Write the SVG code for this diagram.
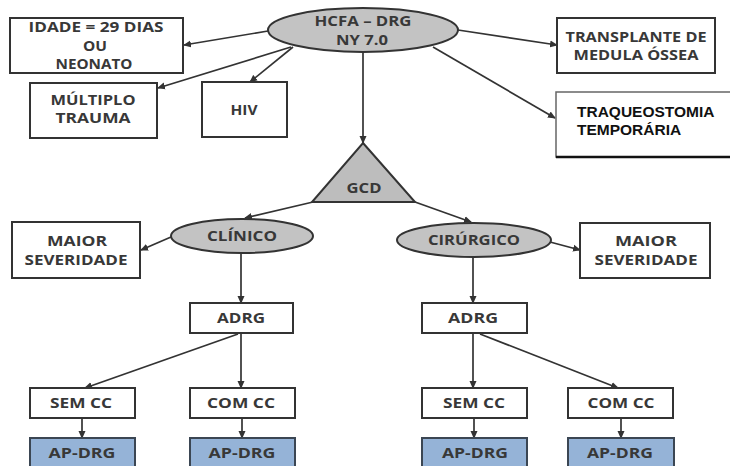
<svg xmlns="http://www.w3.org/2000/svg" width="730" height="466" viewBox="0 0 730 466">
  <style>
    .box { fill: #ffffff; stroke: #333333; stroke-width: 2; }
    .oval { fill: #c3c3c3; stroke: #333333; stroke-width: 2; }
    .tri { fill: #bdbdbd; stroke: #333333; stroke-width: 2; }
    .blue { fill: #95b3d7; stroke: #3b4653; stroke-width: 2; }
    .lbl { font-family: "Open Sans", "DejaVu Sans", sans-serif; font-weight: bold; font-size: 13.5px; fill: #383838; text-anchor: middle; }
    .arial { font-family: "Liberation Sans", Arial, sans-serif; font-weight: bold; font-size: 15.5px; fill: #111111; }
    .edge { fill: none; stroke: #333333; stroke-width: 1.7; marker-end: url(#arrow); }
  </style>
  <defs>
    <marker id="arrow" markerUnits="userSpaceOnUse" markerWidth="8" markerHeight="8" refX="7" refY="4" orient="auto">
      <path d="M0,0.5 L8,4 L0,7.5 z" fill="#333333"/>
    </marker>
  </defs>

  <rect width="730" height="466" fill="#ffffff"/>

  <!-- connectors -->
  <g id="connectors">
    <line class="edge" x1="268" y1="31" x2="184" y2="45"/>
    <line class="edge" x1="291" y1="47" x2="158" y2="88"/>
    <line class="edge" x1="293" y1="47" x2="250" y2="82"/>
    <line class="edge" x1="458" y1="30" x2="557" y2="45"/>
    <line class="edge" x1="433" y1="47" x2="555" y2="118"/>
    <line class="edge" x1="363" y1="52" x2="363" y2="143"/>
    <line class="edge" x1="313" y1="202" x2="245" y2="218"/>
    <line class="edge" x1="415" y1="202" x2="471" y2="222"/>
    <line class="edge" x1="171" y1="237" x2="141" y2="250"/>
    <line class="edge" x1="550" y1="242" x2="580" y2="250"/>
    <line class="edge" x1="241" y1="253" x2="241" y2="303"/>
    <line class="edge" x1="473" y1="257" x2="473" y2="303"/>
    <line class="edge" x1="238" y1="334" x2="85" y2="388"/>
    <line class="edge" x1="241" y1="333" x2="241" y2="388"/>
    <line class="edge" x1="473" y1="333" x2="473" y2="388"/>
    <line class="edge" x1="480" y1="334" x2="618" y2="388"/>
    <line class="edge" x1="82" y1="418" x2="82" y2="438"/>
    <line class="edge" x1="242" y1="418" x2="242" y2="438"/>
    <line class="edge" x1="474" y1="418" x2="474" y2="438"/>
    <line class="edge" x1="621" y1="418" x2="621" y2="438"/>
  </g>

  <!-- root -->
  <g id="hcfa">
    <ellipse class="oval" cx="363" cy="30" rx="95" ry="22"/>
    <text class="lbl" x="363" y="26" textLength="97" lengthAdjust="spacingAndGlyphs">HCFA – DRG</text>
    <text class="lbl" x="362" y="45" textLength="52" lengthAdjust="spacingAndGlyphs">NY 7.0</text>
  </g>

  <g id="idade">
    <rect class="box" x="10" y="18" width="173" height="55"/>
    <text class="lbl" x="96" y="32" textLength="135" lengthAdjust="spacingAndGlyphs">IDADE = 29 DIAS</text>
    <text class="lbl" x="95" y="51" textLength="24" lengthAdjust="spacingAndGlyphs">OU</text>
    <text class="lbl" x="94" y="69" textLength="77" lengthAdjust="spacingAndGlyphs">NEONATO</text>
  </g>

  <g id="multiplo">
    <rect class="box" x="30" y="83" width="127" height="55"/>
    <text class="lbl" x="93" y="105" textLength="85" lengthAdjust="spacingAndGlyphs">MÚLTIPLO</text>
    <text class="lbl" x="93" y="123" textLength="75" lengthAdjust="spacingAndGlyphs">TRAUMA</text>
  </g>

  <g id="hiv">
    <rect class="box" x="202" y="82" width="85" height="55"/>
    <text class="lbl" x="244" y="115" textLength="27" lengthAdjust="spacingAndGlyphs">HIV</text>
  </g>

  <g id="transplante">
    <rect class="box" x="557" y="18" width="158" height="55"/>
    <text class="lbl" x="636" y="42" textLength="141" lengthAdjust="spacingAndGlyphs">TRANSPLANTE DE</text>
    <text class="lbl" x="636" y="60" textLength="125" lengthAdjust="spacingAndGlyphs">MEDULA ÓSSEA</text>
  </g>

  <g id="traqueostomia">
    <rect x="556" y="92" width="176" height="65" fill="#ffffff" stroke="#666666" stroke-width="1.5"/>
    <line x1="556" y1="157" x2="730" y2="157" stroke="#111111" stroke-width="2.5"/>
    <text class="arial" x="577" y="117">TRAQUEOSTOMIA</text>
    <text class="arial" x="577" y="135">TEMPORÁRIA</text>
  </g>

  <g id="gcd">
    <polygon class="tri" points="363,143 415,202 312,202"/>
    <text class="lbl" x="364" y="193" textLength="35" lengthAdjust="spacingAndGlyphs">GCD</text>
  </g>

  <g id="clinico">
    <ellipse class="oval" cx="242" cy="236" rx="71" ry="17"/>
    <text class="lbl" x="242" y="241" textLength="70" lengthAdjust="spacingAndGlyphs">CLÍNICO</text>
  </g>

  <g id="cirurgico">
    <ellipse class="oval" cx="474" cy="240" rx="77" ry="17"/>
    <text class="lbl" x="474" y="245" textLength="92" lengthAdjust="spacingAndGlyphs">CIRÚRGICO</text>
  </g>

  <g id="severidade-clinico">
    <rect class="box" x="12" y="222" width="128" height="56"/>
    <text class="lbl" x="77" y="246" textLength="60" lengthAdjust="spacingAndGlyphs">MAIOR</text>
    <text class="lbl" x="76" y="265" textLength="103" lengthAdjust="spacingAndGlyphs">SEVERIDADE</text>
  </g>

  <g id="severidade-cirurgico">
    <rect class="box" x="580" y="223" width="130" height="55"/>
    <text class="lbl" x="646" y="246" textLength="62" lengthAdjust="spacingAndGlyphs">MAIOR</text>
    <text class="lbl" x="646" y="265" textLength="103" lengthAdjust="spacingAndGlyphs">SEVERIDADE</text>
  </g>

  <g id="adrg-clinico">
    <rect class="box" x="190" y="303" width="103" height="30"/>
    <text class="lbl" x="241" y="323" textLength="48" lengthAdjust="spacingAndGlyphs">ADRG</text>
  </g>

  <g id="adrg-cirurgico">
    <rect class="box" x="422" y="303" width="105" height="30"/>
    <text class="lbl" x="473" y="323" textLength="50" lengthAdjust="spacingAndGlyphs">ADRG</text>
  </g>

  <g id="sem-cc-clinico">
    <rect class="box" x="30" y="388" width="105" height="30"/>
    <text class="lbl" x="81" y="408" textLength="62" lengthAdjust="spacingAndGlyphs">SEM CC</text>
  </g>

  <g id="com-cc-clinico">
    <rect class="box" x="190" y="388" width="105" height="30"/>
    <text class="lbl" x="241" y="408" textLength="68" lengthAdjust="spacingAndGlyphs">COM CC</text>
  </g>

  <g id="sem-cc-cirurgico">
    <rect class="box" x="422" y="388" width="105" height="30"/>
    <text class="lbl" x="474" y="408" textLength="62" lengthAdjust="spacingAndGlyphs">SEM CC</text>
  </g>

  <g id="com-cc-cirurgico">
    <rect class="box" x="568" y="388" width="105" height="30"/>
    <text class="lbl" x="621" y="408" textLength="67" lengthAdjust="spacingAndGlyphs">COM CC</text>
  </g>

  <g id="ap-drg-1">
    <rect class="blue" x="30" y="438" width="105" height="34"/>
    <text class="lbl" x="82" y="458" textLength="67" lengthAdjust="spacingAndGlyphs">AP-DRG</text>
  </g>

  <g id="ap-drg-2">
    <rect class="blue" x="190" y="438" width="105" height="34"/>
    <text class="lbl" x="242" y="458" textLength="67" lengthAdjust="spacingAndGlyphs">AP-DRG</text>
  </g>

  <g id="ap-drg-3">
    <rect class="blue" x="422" y="438" width="105" height="34"/>
    <text class="lbl" x="475" y="458" textLength="66" lengthAdjust="spacingAndGlyphs">AP-DRG</text>
  </g>

  <g id="ap-drg-4">
    <rect class="blue" x="568" y="438" width="106" height="34"/>
    <text class="lbl" x="620" y="458" textLength="66" lengthAdjust="spacingAndGlyphs">AP-DRG</text>
  </g>
</svg>
